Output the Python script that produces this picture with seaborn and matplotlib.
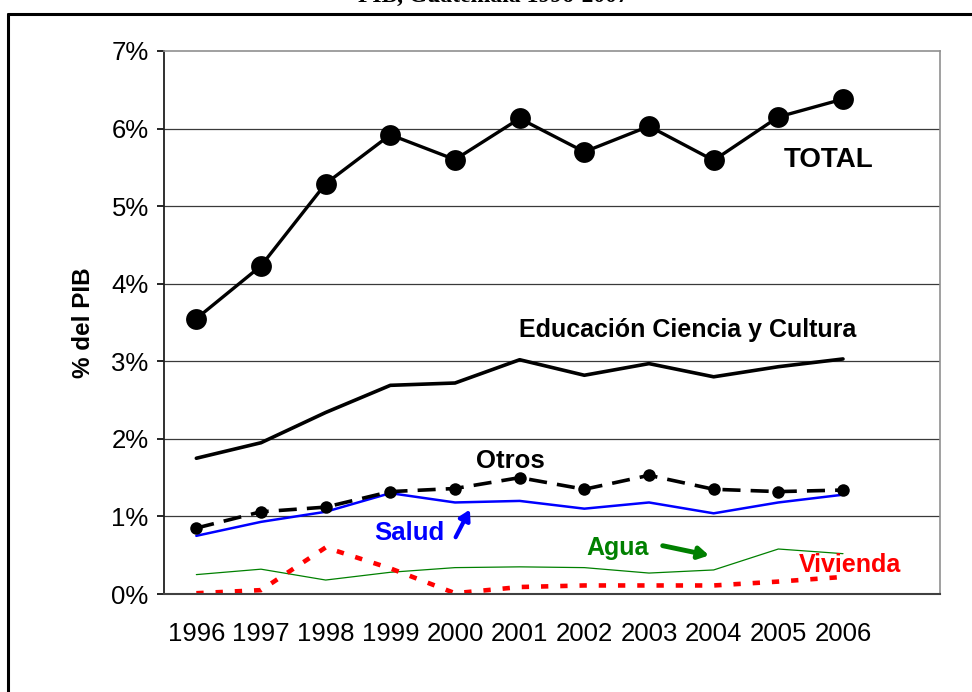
import numpy as np
import pandas as pd
import matplotlib
matplotlib.use('Agg')
import matplotlib.pyplot as plt
from matplotlib.lines import Line2D
import seaborn as sns

years = [1996, 1997, 1998, 1999, 2000, 2001, 2002, 2003, 2004, 2005, 2006]
total = [3.55, 4.23, 5.29, 5.92, 5.60, 6.13, 5.70, 6.03, 5.59, 6.15, 6.38]
educacion = [1.75, 1.95, 2.34, 2.69, 2.72, 3.02, 2.82, 2.97, 2.80, 2.93, 3.03]
otros = [0.85, 1.06, 1.12, 1.32, 1.36, 1.50, 1.35, 1.53, 1.35, 1.32, 1.34]
salud = [0.75, 0.93, 1.06, 1.30, 1.18, 1.20, 1.10, 1.18, 1.04, 1.18, 1.28]
agua = [0.25, 0.32, 0.18, 0.28, 0.34, 0.35, 0.34, 0.27, 0.31, 0.58, 0.52]
vivienda = [0.01, 0.05, 0.60, 0.33, 0.01, 0.09, 0.11, 0.11, 0.11, 0.16, 0.22]
yticks = [0, 1, 2, 3, 4, 5, 6, 7]

df = pd.DataFrame({'year': years, 'total': total, 'educacion': educacion,
                   'otros': otros, 'salud': salud, 'agua': agua, 'vivienda': vivienda})

sns.set_style('white')
plt.rcParams['font.family'] = ['Liberation Sans', 'DejaVu Sans']
plt.rcParams['text.color'] = 'black'
plt.rcParams['axes.labelcolor'] = 'black'
plt.rcParams['xtick.color'] = 'black'
plt.rcParams['ytick.color'] = 'black'

fig = plt.figure(figsize=(9.72, 6.92), dpi=100)
ax = fig.add_axes([164/972, 1-594/692, (940-164)/972, (594-51)/692])

# grid
for v in yticks[1:-1]:
    ax.axhline(v, color='#3a3a3a', lw=0.9, zorder=0)

sns.lineplot(data=df, x='year', y='agua', ax=ax, color='#008000', lw=0.9)
sns.lineplot(data=df, x='year', y='vivienda', ax=ax, color='#ff0000', lw=3.3,
             linestyle=(0, (1.6, 2.6)))
sns.lineplot(data=df, x='year', y='salud', ax=ax, color='#0000ff', lw=1.8)
sns.lineplot(data=df, x='year', y='otros', ax=ax, color='black', lw=2.6,
             linestyle=(0, (5, 2.8)), marker='o', markersize=9, markeredgewidth=0)
sns.lineplot(data=df, x='year', y='educacion', ax=ax, color='black', lw=2.6)
sns.lineplot(data=df, x='year', y='total', ax=ax, color='black', lw=2.4,
             marker='o', markersize=15, markeredgewidth=0)

ax.set_xlim(1995.5, 2007.5)
ax.set_ylim(0, 7)
ax.set_yticks(yticks)
ax.set_yticklabels([f'{v}%' for v in yticks], fontsize=18.5)
ax.set_xticks(years)
ax.set_xticklabels([str(y) for y in years], fontsize=18.5)
ax.set_xticks(np.arange(1995.5, 2008, 1), minor=True)
ax.tick_params(axis='x', which='major', length=0, pad=20)
ax.tick_params(axis='x', which='minor', length=6, width=1.2, color='#404040', direction='out')
ax.tick_params(axis='y', length=5, width=1.2, direction='out', pad=6, left=True)
ax.set_xlabel('')
ax.set_ylabel('% del PIB', fontsize=17.5, fontweight='bold', labelpad=12)

for s in ['top', 'right']:
    ax.spines[s].set_color('#909090')
    ax.spines[s].set_linewidth(1.2)
ax.spines['left'].set_color('#202020')
ax.spines['bottom'].set_color('#404040')
ax.spines['left'].set_linewidth(1.3)
ax.spines['bottom'].set_linewidth(1.5)

ax.text(2005.77, 5.6, 'TOTAL', fontsize=20, fontweight='bold', ha='center', va='center')
ax.text(2003.6, 3.40, 'Educación Ciencia y Cultura', fontsize=18, fontweight='bold', ha='center', va='center')
ax.text(2000.85, 1.71, 'Otros', fontsize=18.5, fontweight='bold', ha='center', va='center')
ax.text(1999.29, 0.79, 'Salud', fontsize=18.5, fontweight='bold', ha='center', va='center', color='#0000ff')
ax.text(2002.52, 0.59, 'Agua', fontsize=18, fontweight='bold', ha='center', va='center', color='#008000')
ax.text(2006.1, 0.37, 'Vivienda', fontsize=18, fontweight='bold', ha='center', va='center', color='#ff0000')

ax.annotate('', xy=(2000.25, 1.12), xytext=(1999.99, 0.70),
            arrowprops=dict(arrowstyle='-|>,head_width=0.35,head_length=0.6', color='#0000ff', lw=3))
ax.annotate('', xy=(2003.97, 0.49), xytext=(2003.17, 0.63),
            arrowprops=dict(arrowstyle='-|>,head_width=0.35,head_length=0.6', color='#008000', lw=3.5))

# outer frame and clipped title
fig.add_artist(Line2D([8/972, 1], [1-14/692, 1-14/692], color='black', lw=2.2))
fig.add_artist(Line2D([8/972, 8/972], [0, 1-14/692], color='black', lw=2.2))
fig.text(0.508, 1-1.5/692, 'PIB, Guatemala 1996-2007', fontsize=17, fontweight='bold',
         family=['Liberation Serif', 'DejaVu Serif'], ha='center', va='baseline')

fig.savefig('out.png', dpi=100)
